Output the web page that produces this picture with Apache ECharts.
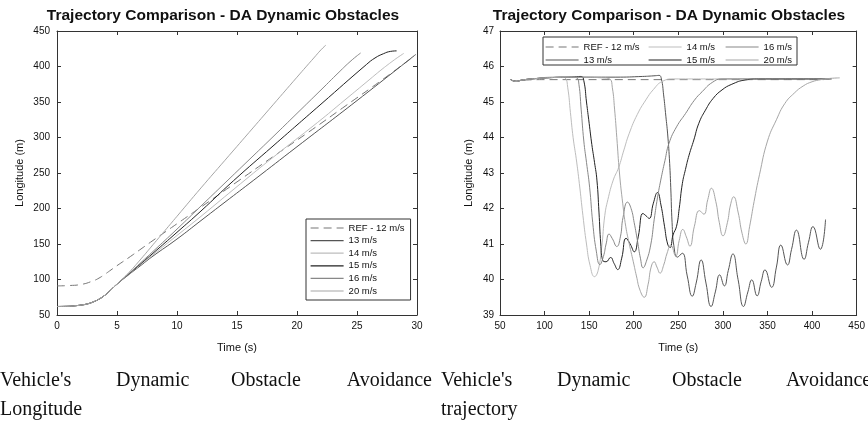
<!DOCTYPE html>
<html>
<head>
<meta charset="utf-8">
<script src="https://cdn.jsdelivr.net/npm/echarts@6/dist/echarts.min.js"></script>
<style>
html,body{margin:0;padding:0;background:#fff;}
#c{width:868px;height:428px;}
</style>
</head>
<body>
<div id="c"></div>
<script>
// ---------- DATA ----------
const seriesNames = ['REF - 12 m/s', '13 m/s', '14 m/s', '15 m/s', '16 m/s', '20 m/s'];
const seriesColors = ['#777777', '#555555', '#bdbdbd', '#222222', '#888888', '#a6a6a6'];

// Left chart: [time (s), longitude (m)]
const lonRef = [[0,91],[1,91.5],[2,93],[3,98],[3.5,102],[4,107.5],[4.5,113.5],[5,119.5],[6,131],[7,143],[8,155],[10,178.5],[12,202],[15,237.5],[18,273],[21,308],[24,344],[27,380],[29.6,412.5]];
const lon13 = [[0,62],[1,62.3],[1.5,63],[2,64],[2.5,65.5],[3,68.3],[3.5,72.3],[4,78],[4.5,85.5],[5,93.5],[6,107],[7,120],[8,133],[10,157],[12,183],[14,209],[16.4,240],[20,287],[25,352],[29.9,417]];
const lon14 = [[0,62],[1,62.3],[1.5,63],[2,64],[2.5,65.5],[3,68.3],[3.5,72.3],[4,78],[4.5,85.5],[5,93.5],[6,107.5],[7,121.5],[8,135],[10,162],[12,189],[15.3,235],[18,272],[21.7,321],[24,353],[26,381],[27,395],[28,408],[28.5,414],[28.9,418.5]];
const lon15 = [[0,62],[1,62.3],[1.5,63],[2,64],[2.5,65.5],[3,68.3],[3.5,72.3],[4,78],[4.5,85.5],[5,93.5],[6,108],[7,122.5],[8,137],[10,166.5],[12,196.5],[14.7,239],[18,288],[22,347],[25.8,403],[26.5,412],[27.2,418],[27.8,421.3],[28.3,422]];
const lon16 = [[0,62],[1,62.3],[1.5,63],[2,64],[2.5,65.5],[3,68.3],[3.5,72.3],[4,78],[4.5,85.5],[5,93.5],[6,108.5],[7,124],[8,139.5],[10,171],[12,203.5],[14,236],[16,268.5],[18,301],[20,334],[22,367],[23.5,392],[24.5,408],[25.3,419]];
const lon20 = [[0,62],[1,62.3],[1.5,63],[2,64],[2.5,65.5],[3,68.3],[3.5,72.3],[4,78],[4.5,85.5],[5,93.5],[6,110],[7,129],[8,149],[9,169],[10,189],[12,229],[14,268],[16,307],[18,346],[20,385],[20.8,400.5],[21.4,412],[22,423.5],[22.4,430]];

// Right chart: [longitude, lateral]
const trajRef = [[62,45.62],[70,45.59],[80,45.62],[100,45.63],[413,45.63]];
const traj13 = [[62,45.63],[68,45.58],[75,45.62],[90,45.66],[110,45.69],[140,45.7],[180,45.7],[210,45.72],[224,45.74],[228.5,45.75],[231,45.65],[233.5,45.2],[236,44.6],[238,44.1],[240,43.4],[241.5,42.6],[243,41.6],[245,40.95],[249,40.63],[254.4,40.74],[260,40.1],[265.6,39.53],[270,39.9],[275.6,40.55],[281,39.9],[286.7,39.24],[291.5,39.65],[296.4,40.13],[301.6,39.82],[306,40.25],[311.2,40.72],[317,40.0],[323.1,39.24],[328,39.65],[332.4,39.99],[338.3,39.54],[343,39.95],[347.2,40.27],[354.6,39.78],[360,40.35],[365,40.97],[372.4,40.41],[377,40.85],[382.5,41.39],[391,40.57],[396,41.05],[401,41.49],[409.2,40.85],[415.1,41.69]];
const traj14 = [[62,45.63],[68,45.58],[75,45.62],[90,45.66],[105,45.7],[118,45.71],[123,45.68],[126,45.4],[129,44.7],[132,44.0],[135.5,43.4],[139,42.7],[143,41.8],[147,41.0],[151,40.4],[156,40.08],[160,40.25],[164,40.9],[167.5,41.8],[171,42.25],[177,42.8],[183,43.15],[189,43.65],[195,44.12],[204,44.65],[213.6,45.06],[222,45.35],[232,45.58],[245,45.65],[300,45.65],[419,45.65]];
const traj15 = [[62,45.63],[68,45.58],[75,45.62],[90,45.66],[110,45.69],[130,45.7],[141,45.72],[144,45.6],[147,45.0],[150,44.4],[153,43.8],[156,43.3],[158.7,42.8],[161,41.9],[163,41.0],[165,40.55],[169,40.5],[174,40.62],[178,40.45],[182,40.28],[186.5,40.6],[191.4,41.16],[196,41.0],[200.6,40.78],[205,41.2],[210.3,41.86],[213.5,41.8],[217.3,41.72],[222,42.15],[226.6,42.45],[230.5,42.1],[234.5,41.5],[238,41.0],[240.8,40.9],[244,41.25],[248,41.5],[251,42.0],[254.5,42.7],[258,43.1],[262,43.5],[267.4,43.93],[273,44.4],[280.4,44.77],[289,45.1],[299,45.34],[310,45.5],[325,45.62],[340,45.65],[422,45.65]];
const traj16 = [[62,45.63],[68,45.58],[75,45.62],[90,45.66],[110,45.69],[130,45.7],[136,45.68],[138.5,45.5],[141,44.8],[144,43.9],[147,43.3],[150.5,42.6],[154,41.6],[158,40.8],[162,40.42],[166,40.65],[169,41.0],[172.3,41.28],[176,41.15],[181,40.93],[185,41.2],[188,41.75],[193,42.18],[197,42.0],[200.5,41.6],[204.3,41.07],[207.5,40.6],[210.5,40.33],[214,40.5],[219,40.97],[223,41.7],[226.6,42.3],[230.3,42.8],[235,43.35],[239.6,43.84],[248,44.3],[258.2,44.68],[268,45.05],[276.7,45.29],[288,45.55],[299,45.65],[420,45.65]];
const traj20 = [[62,45.63],[68,45.58],[75,45.62],[90,45.66],[110,45.69],[140,45.7],[165,45.68],[173,45.65],[176,45.4],[178.5,44.8],[181,44.0],[184,43.0],[187.6,42.15],[191,41.5],[195,41.0],[199.5,40.5],[203,40.1],[207,39.7],[211.8,39.5],[216,39.85],[219.5,40.35],[222.9,40.5],[226,40.35],[229.5,40.18],[233.5,40.4],[237.5,40.75],[241.5,40.97],[247,40.66],[251,41.1],[255,41.41],[259,41.2],[263,40.94],[268,41.5],[273.7,41.94],[278.6,41.84],[283,42.25],[287.1,42.57],[292,42.2],[296,41.6],[300.1,41.23],[305,41.6],[308.5,42.1],[312,42.33],[317,41.9],[321.5,41.3],[325.7,41.0],[330,41.5],[335,42.2],[341,42.95],[350,43.9],[360,44.5],[369.5,44.96],[380,45.25],[390,45.45],[400,45.57],[410,45.63],[418,45.66],[431,45.68]];

const leftData = [lonRef, lon13, lon14, lon15, lon16, lon20];
const rightData = [trajRef, traj13, traj14, traj15, traj16, traj20];

// ---------- CHART ----------
const FONT = 'Liberation Sans, Arial, sans-serif';
const AXC = '#333';
function mainAxis(min, max, interval, pos, name, gap, showLabel, labMargin) {
  return {
    type: 'value', min: min, max: max, interval: interval, position: pos,
    name: name || '', nameLocation: 'middle', nameGap: gap || 0,
    nameTextStyle: { fontFamily: FONT, fontSize: 11, color: '#111' },
    axisLine: { show: true, onZero: false, lineStyle: { color: AXC, width: 1 } },
    axisTick: { show: true, inside: true, length: 4, lineStyle: { color: AXC } },
    axisLabel: { show: showLabel, margin: labMargin, fontFamily: FONT, fontSize: 10, color: '#111' },
    splitLine: { show: false }
  };
}
const xAxes = [
  Object.assign(mainAxis(0, 30, 5, 'bottom', 'Time (s)', 27, true, 6), { gridIndex: 0 }),
  Object.assign(mainAxis(0, 30, 5, 'top', '', 0, false, 6), { gridIndex: 0 }),
  Object.assign(mainAxis(50, 450, 50, 'bottom', 'Time (s)', 27, true, 6), { gridIndex: 1 }),
  Object.assign(mainAxis(50, 450, 50, 'top', '', 0, false, 6), { gridIndex: 1 })
];
const yAxes = [
  Object.assign(mainAxis(50, 450, 50, 'left', 'Longitude (m)', 32, true, 7), { gridIndex: 0 }),
  Object.assign(mainAxis(50, 450, 50, 'right', '', 0, false, 7), { gridIndex: 0 }),
  Object.assign(mainAxis(39, 47, 1, 'left', 'Longitude (m)', 26, true, 6), { gridIndex: 1 }),
  Object.assign(mainAxis(39, 47, 1, 'right', '', 0, false, 6), { gridIndex: 1 })
];

const series = [];
leftData.forEach(function (d, i) {
  series.push({
    name: seriesNames[i], type: 'line', xAxisIndex: 0, yAxisIndex: 0, data: d,
    symbol: 'none', smooth: 0.5,
    lineStyle: { color: seriesColors[i], width: 1, type: i === 0 ? [8, 5] : 'solid' },
    itemStyle: { color: seriesColors[i] }
  });
});
rightData.forEach(function (d, i) {
  series.push({
    name: seriesNames[i], type: 'line', xAxisIndex: 2, yAxisIndex: 2, data: d,
    symbol: 'none', smooth: 0.5,
    lineStyle: { color: seriesColors[i], width: 1, type: i === 0 ? [8, 5] : 'solid' },
    itemStyle: { color: seriesColors[i] }
  });
});

const legendText = { fontFamily: FONT, fontSize: 9.5, color: '#111' };
const noSymbol = { opacity: 0, borderWidth: 0 };
const legLine = { width: 1.2 };
const legends = [
  { orient: 'vertical', left: 306, top: 219, itemWidth: 33, itemHeight: 10, itemGap: 2.6,
    padding: [4, 6, 4, 4], borderColor: '#333', borderWidth: 1, backgroundColor: '#fff',
    itemStyle: noSymbol, lineStyle: legLine, textStyle: legendText, data: seriesNames },
  { orient: 'vertical', left: 545, top: 42, itemWidth: 33, itemHeight: 10, itemGap: 3, padding: 0,
    itemStyle: noSymbol, lineStyle: legLine, textStyle: legendText, data: [seriesNames[0], seriesNames[1]] },
  { orient: 'vertical', left: 648, top: 42, itemWidth: 33, itemHeight: 10, itemGap: 3, padding: 0,
    itemStyle: noSymbol, lineStyle: legLine, textStyle: legendText, data: [seriesNames[2], seriesNames[3]] },
  { orient: 'vertical', left: 725, top: 42, itemWidth: 33, itemHeight: 10, itemGap: 3, padding: 0,
    itemStyle: noSymbol, lineStyle: legLine, textStyle: legendText, data: [seriesNames[4], seriesNames[5]] }
];

const SERIF = 'Liberation Serif, Times New Roman, serif';
function word(t, x, y, align) {
  return { type: 'text', x: x, y: y,
    style: { text: t, fill: '#111', font: '20px ' + SERIF, textAlign: align || 'left', textVerticalAlign: 'middle' } };
}
const captionWords = [
  ["Vehicle's", 0, 381], ['Dynamic', 116, 381], ['Obstacle', 231, 381], ['Avoidance', 432, 381, 'right'],
  ['Longitude', 0, 409.5],
  ["Vehicle's", 441, 381], ['Dynamic', 557, 381], ['Obstacle', 672, 381], ['Avoidance', 786, 381],
  ['trajectory', 441, 409.5]
];
const graphics = captionWords.map(function (w) { return word(w[0], w[1], w[2], w[3]); });
graphics.push({ type: 'rect', shape: { x: 543, y: 37, width: 254, height: 28 },
  style: { fill: 'none', stroke: '#333', lineWidth: 1 }, z: 10 });

const chart = echarts.init(document.getElementById('c'), null, { renderer: 'canvas' });
chart.setOption({
  animation: false,
  backgroundColor: '#fff',
  title: [
    { text: 'Trajectory Comparison - DA Dynamic Obstacles', left: 218, top: 3, textAlign: 'center',
      textStyle: { fontFamily: FONT, fontSize: 15.5, fontWeight: 'bold', color: '#111' } },
    { text: 'Trajectory Comparison - DA Dynamic Obstacles', left: 664, top: 3, textAlign: 'center',
      textStyle: { fontFamily: FONT, fontSize: 15.5, fontWeight: 'bold', color: '#111' } }
  ],
  grid: [
    { left: 57, right: 451, top: 31, bottom: 113, containLabel: false },
    { left: 500, right: 9, top: 31, bottom: 113, containLabel: false }
  ],
  xAxis: xAxes,
  yAxis: yAxes,
  legend: legends,
  series: series,
  graphic: graphics
});
</script>
</body>
</html>
